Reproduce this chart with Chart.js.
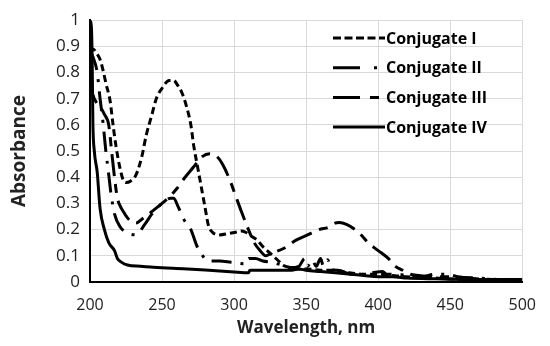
<!DOCTYPE html>
<html>
<head>
<meta charset="utf-8">
<script src="https://cdn.jsdelivr.net/npm/chart.js@4.4.0/dist/chart.umd.min.js"></script>
<style>
  html, body { margin: 0; background: #fff; }
  canvas { display: block; }
</style>
</head>
<body>
<canvas id="spectra" width="550" height="346"></canvas>
<script>
// Series labels and axis ticks
const seriesLabels = ['Conjugate I', 'Conjugate II', 'Conjugate III', 'Conjugate IV'];
const xTickValues = [200, 250, 300, 350, 400, 450, 500];
const yTickLabels = ['0', '0.1', '0.2', '0.3', '0.4', '0.5', '0.6', '0.7', '0.8', '0.9', '1'];

// Conjugate I (short dash)
const wlI  = [200, 202, 205, 207, 209, 211, 214, 216, 218, 221, 223, 225, 228, 232, 236, 239, 243, 246, 250, 255, 258, 261, 264, 267, 270, 272, 275, 278, 280, 282, 285, 290, 296, 301, 305, 308, 312, 316, 320, 325, 330, 334, 340, 345, 350, 360, 370, 380, 390, 400, 410, 420, 440, 460, 500];
const absI = [0.88, 0.89, 0.87, 0.85, 0.81, 0.76, 0.69, 0.60, 0.52, 0.43, 0.39, 0.38, 0.385, 0.41, 0.48, 0.56, 0.64, 0.70, 0.74, 0.77, 0.77, 0.75, 0.72, 0.67, 0.60, 0.52, 0.43, 0.34, 0.28, 0.22, 0.19, 0.18, 0.185, 0.19, 0.195, 0.19, 0.175, 0.16, 0.135, 0.11, 0.085, 0.064, 0.055, 0.05, 0.05, 0.045, 0.045, 0.035, 0.03, 0.03, 0.025, 0.02, 0.015, 0.01, 0.01];

// Conjugate II (dash-dot)
const wlII  = [200, 202, 205, 207, 209, 211, 213, 214.5, 217, 221, 225, 232, 238, 243, 250, 256, 258, 261, 265, 270, 274, 277, 282, 290, 298, 307, 309, 310, 315, 320, 326, 333, 339, 345, 349, 351, 354, 357, 360, 362, 365, 367, 372, 378, 384, 390, 396, 403, 406, 412, 420, 430, 440, 448, 455, 470, 485, 500];
const absII = [0.88, 0.86, 0.80, 0.70, 0.61, 0.50, 0.41, 0.34, 0.26, 0.21, 0.19, 0.18, 0.22, 0.26, 0.30, 0.32, 0.32, 0.29, 0.24, 0.20, 0.14, 0.11, 0.08, 0.08, 0.075, 0.07, 0.07, 0.09, 0.09, 0.08, 0.075, 0.065, 0.055, 0.06, 0.09, 0.06, 0.085, 0.06, 0.09, 0.06, 0.085, 0.05, 0.045, 0.035, 0.028, 0.03, 0.035, 0.04, 0.03, 0.03, 0.025, 0.02, 0.03, 0.03, 0.02, 0.015, 0.01, 0.01];

// Conjugate III (long dash)
const wlIII  = [200, 202, 204, 207, 210, 213, 215, 217, 219, 221, 223, 226, 229, 232, 236, 242, 250, 256, 260, 266, 272, 277, 283, 288, 292, 297, 301, 305, 310, 314, 318, 322, 326, 335, 343, 351, 359, 366, 370, 373, 378, 384, 389, 393, 400, 407, 412, 417, 422, 428, 440, 450, 460, 480, 500];
const absIII = [0.83, 0.72, 0.69, 0.67, 0.64, 0.60, 0.50, 0.40, 0.32, 0.29, 0.27, 0.245, 0.23, 0.225, 0.24, 0.265, 0.30, 0.33, 0.355, 0.40, 0.44, 0.475, 0.49, 0.48, 0.45, 0.39, 0.33, 0.27, 0.20, 0.15, 0.12, 0.10, 0.11, 0.13, 0.16, 0.18, 0.20, 0.21, 0.225, 0.227, 0.22, 0.20, 0.175, 0.15, 0.12, 0.09, 0.06, 0.045, 0.03, 0.025, 0.02, 0.02, 0.015, 0.01, 0.01];

// Conjugate IV (solid)
const wlIV  = [200, 201, 201.5, 202, 203, 205, 207, 210, 213, 217, 219, 222, 226, 235, 242, 260, 280, 300, 310, 311, 330, 340, 345, 350, 360, 370, 380, 390, 400, 410, 420, 440, 460, 480, 500];
const absIV = [1.0, 0.97, 0.85, 0.61, 0.50, 0.42, 0.28, 0.20, 0.15, 0.12, 0.09, 0.075, 0.065, 0.06, 0.057, 0.052, 0.046, 0.038, 0.035, 0.045, 0.045, 0.045, 0.05, 0.045, 0.04, 0.035, 0.03, 0.025, 0.02, 0.02, 0.015, 0.012, 0.01, 0.01, 0.01];

const seriesWl  = [wlI, wlII, wlIII, wlIV];
const seriesAbs = [absI, absII, absIII, absIV];
const seriesDash = [[7, 4], [20, 9, 3, 9], [22, 8, 9, 8], []];
const legendDash = [[8, 3.5], [27, 14, 3, 14], [27, 10, 9, 10], []];

const FONT = '"Open Sans", "DejaVu Sans", sans-serif';

// Legend drawn inside the plot, line sample then label
const lineLegend = {
    id: 'lineLegend',
    afterDraw: (chart) => {
        const { ctx } = chart;
        ctx.save();
        ctx.font = 'bold 16px ' + FONT;
        ctx.textBaseline = 'middle';
        ctx.textAlign = 'left';
        chart.data.datasets.forEach((ds, i) => {
            const y = 38 + i * 29.7;
            ctx.strokeStyle = '#000';
            ctx.lineWidth = 3;
            ctx.setLineDash(legendDash[i]);
            ctx.beginPath();
            ctx.moveTo(333, y);
            ctx.lineTo(385, y);
            ctx.stroke();
            ctx.setLineDash([]);
            ctx.fillStyle = '#000';
            ctx.fillText(ds.label, 386, y + 1);
        });
        ctx.restore();
    }
};

const datasets = seriesLabels.map((label, i) => ({
    label,
    data: seriesWl[i].map((x, j) => ({ x, y: seriesAbs[i][j] })),
    borderColor: '#000',
    borderWidth: 3,
    borderDash: seriesDash[i],
    pointRadius: 0,
    fill: false,
    cubicInterpolationMode: 'monotone'
}));

new Chart(document.getElementById('spectra').getContext('2d'), {
    type: 'line',
    data: { datasets },
    plugins: [lineLegend],
    options: {
        responsive: false,
        animation: false,
        layout: { padding: { top: 17, right: 22, left: 0, bottom: 0 } },
        plugins: { legend: { display: false }, tooltip: { enabled: false } },
        scales: {
            x: {
                type: 'linear',
                min: 200,
                max: 500,
                afterFit: (s) => { s.height = 64; },
                afterBuildTicks: (s) => { s.ticks = xTickValues.map(v => ({ value: v })); },
                grid: { color: '#d9d9d9', lineWidth: 1, drawTicks: false },
                border: { color: '#000', width: 2 },
                ticks: { color: '#222', font: { family: FONT, size: 16 }, padding: 14, maxRotation: 0 },
                title: { display: true, text: 'Wavelength, nm', color: '#222', font: { family: FONT, size: 17, weight: 'bold' }, padding: { bottom: 8 } }
            },
            y: {
                min: 0,
                max: 1,
                afterFit: (s) => { s.width = 90; },
                afterBuildTicks: (s) => { s.ticks = yTickLabels.map(t => ({ value: parseFloat(t) })); },
                grid: { color: '#d9d9d9', lineWidth: 1, drawTicks: false },
                border: { color: '#000', width: 2 },
                ticks: {
                    color: '#222',
                    font: { family: FONT, size: 17 },
                    padding: 10,
                    callback: (v, idx) => yTickLabels[idx]
                },
                title: { display: true, text: 'Absorbance', color: '#222', font: { family: FONT, size: 19, weight: 'bold' }, padding: { top: 8 } }
            }
        }
    }
});
</script>
</body>
</html>
